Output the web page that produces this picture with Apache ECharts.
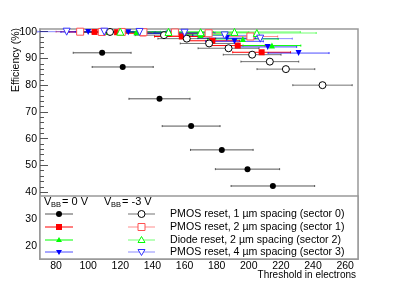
<!DOCTYPE html>
<html><head><meta charset="utf-8">
<script src="https://cdn.jsdelivr.net/npm/echarts@6/dist/echarts.min.js"></script>
<style>html,body{margin:0;padding:0;background:#fff}#c{width:399px;height:288px}</style>
</head><body><div id="c"></div>
<script>
// [threshold, efficiency, threshold error]
const s0_vbb0 = [[108.7,92.1,18],[121.5,86.8,19],[144.4,74.9,19],[164.1,64.7,18],[183.2,55.8,19.5],[199.2,48.6,20],[215,42.3,26]];
const s0_vbb3 = [[113.6,99.9,18],[147.2,98.7,18],[161.4,97.4,18],[175.3,95.6,18],[187.4,93.8,19],[202.1,91.4,18],[213.1,88.8,18],[223.1,86.0,18],[245.9,80.0,18.5]];
const s1_vbb0 = [[104,99.9,16],[118,99.8,16],[134,99.4,17],[158.3,98.2,17],[177.3,96.6,17],[193.1,94.8,17],[208,92.3,18]];
const s1_vbb3 = [[95,100,15],[108.5,99.9,15],[120.9,99.9,15],[134.4,99.8,15],[154,99.7,16],[175,99.4,16],[201,98.2,17]];
const s2_vbb0 = [[112,99.9,18],[130,99.8,18],[150,99.5,18],[170,98.8,20],[196.3,97.3,22],[214.4,94.8,18]];
const s2_vbb3 = [[120,100,25],[150,99.9,28],[170,99.8,30],[191.1,99.9,41],[205,99.5,37]];
const s3_vbb0 = [[100,99.9,17],[125,99.8,17],[150,99.3,18],[186.3,97.6,18],[191.1,96.4,18],[211.8,94.3,18],[231,92.0,19]];
const s3_vbb3 = [[86.6,100,18],[110,100,18],[132,99.9,19],[160,99.6,19],[185,98.6,20],[207.1,97.4,20]];
const xTicks = [80,100,120,140,160,180,200,220,240,260];
const yTicks = [20,30,40,50,60,70,80,90,100];
const yMinor = [];
for (let v = 16; v <= 100; v += 2) yMinor.push(v);
const legendLabels = ['PMOS reset, 1 \u00b5m spacing (sector 0)','PMOS reset, 2 \u00b5m spacing (sector 1)','Diode reset, 2 \u00b5m spacing (sector 2)','PMOS reset, 4 \u00b5m spacing (sector 3)'];

const FONT = 'Liberation Sans, Arial, sans-serif';
const sets = [
  {d:s0_vbb0, sym:'circle', fill:'#000', stroke:'#000', bar:'#555', rot:0, size:6},
  {d:s1_vbb0, sym:'rect', fill:'#ff0000', stroke:'#ff0000', bar:'#ff0000', rot:0, size:6},
  {d:s2_vbb0, sym:'triangle', fill:'#00ff00', stroke:'#00ff00', bar:'#00ff00', rot:0, size:6},
  {d:s3_vbb0, sym:'triangle', fill:'#0000ff', stroke:'#0000ff', bar:'rgba(0,0,255,0.7)', rot:180, size:6},
  {d:s0_vbb3, sym:'circle', fill:'#fff', stroke:'#000', bar:'rgba(0,0,0,0.55)', rot:0, size:7},
  {d:s1_vbb3, sym:'rect', fill:'#fff', stroke:'#ff5050', bar:'rgba(255,0,0,0.45)', rot:0, size:7},
  {d:s2_vbb3, sym:'triangle', fill:'#fff', stroke:'#00ff00', bar:'rgba(0,255,0,0.55)', rot:0, size:7},
  {d:s3_vbb3, sym:'triangle', fill:'#fff', stroke:'#3333ff', bar:'rgba(0,0,255,0.45)', rot:180, size:7}
];

const series = [];
sets.forEach(s => {
  series.push({
    type:'custom', data:s.d, z:2, silent:true,
    renderItem:(params, api) => {
      const x = api.value(0), y = api.value(1), e = api.value(2);
      const p1 = api.coord([x-e, y]), p2 = api.coord([x+e, y]);
      return {type:'group', children:[
        {type:'line', shape:{x1:p1[0], y1:p1[1], x2:p2[0], y2:p2[1]}, style:{stroke:s.bar, lineWidth:1}},
        {type:'line', shape:{x1:p1[0], y1:p1[1]-1, x2:p1[0], y2:p1[1]+1}, style:{stroke:s.bar, lineWidth:1}},
        {type:'line', shape:{x1:p2[0], y1:p2[1]-1, x2:p2[0], y2:p2[1]+1}, style:{stroke:s.bar, lineWidth:1}}
      ]};
    }
  });
});
sets.forEach(s => {
  series.push({
    type:'scatter', data:s.d.map(p => [p[0], p[1]]), symbol:s.sym, symbolSize:s.size, symbolRotate:s.rot, z:3,
    itemStyle:{color:s.fill, borderColor:s.stroke, borderWidth:s.fill === '#fff' ? 1 : 0, opacity:1}
  });
});

// legend graphics
const legendTop = 196, rowsY = [214, 227, 240, 252];
const g = [];
g.push({type:'rect', z:100, shape:{x:40, y:legendTop, width:318, height:259-legendTop}, style:{fill:'#fff', stroke:'#999', lineWidth:1.5}});
function txt(x, y, t, size, align) {
  g.push({type:'text', z:101, x:x, y:y, style:{text:t, font:size + 'px ' + FONT, fill:'#000', align:align || 'left', verticalAlign:'middle'}});
}
txt(44, 202, 'V', 11); txt(51, 205, 'BB', 7.5); txt(62, 202, '= 0 V', 11);
txt(104, 202, 'V', 11); txt(111, 205, 'BB', 7.5); txt(122, 202, '= -3 V', 11);
function marker(cx, cy, s) {
  const r = s.size / 2;
  const st = {fill:s.fill, stroke:s.stroke, lineWidth:s.fill === '#fff' ? 1 : 0};
  if (s.sym === 'circle') g.push({type:'circle', z:102, shape:{cx:cx, cy:cy, r:r}, style:st});
  else if (s.sym === 'rect') g.push({type:'rect', z:102, shape:{x:cx-r, y:cy-r, width:2*r, height:2*r}, style:st});
  else {
    const pts = s.rot ? [[cx-r, cy-r+1], [cx+r, cy-r+1], [cx, cy+r]] : [[cx-r, cy+r-1], [cx+r, cy+r-1], [cx, cy-r]];
    g.push({type:'polygon', z:102, shape:{points:pts}, style:st});
  }
}
for (let i = 0; i < 4; i++) {
  const a = sets[i], b = sets[i+4], y = rowsY[i];
  g.push({type:'line', z:101, shape:{x1:45, y1:y, x2:73, y2:y}, style:{stroke:a.bar, lineWidth:1}});
  marker(59, y, a);
  g.push({type:'line', z:101, shape:{x1:128, y1:y, x2:155, y2:y}, style:{stroke:b.bar, lineWidth:1}});
  marker(141.5, y, b);
  txt(170, y, legendLabels[i], 10.6);
}
// axis titles
g.push({type:'text', z:101, x:16, y:28, rotation:Math.PI/2, style:{text:'Efficiency (%)', font:'10.5px ' + FONT, fill:'#000', align:'right', verticalAlign:'middle'}});
g.push({type:'text', z:101, x:356, y:275, style:{text:'Threshold in electrons', font:'10px ' + FONT, fill:'#000', align:'right', verticalAlign:'middle'}});

const chart = echarts.init(document.getElementById('c'), null, {renderer:'canvas'});
chart.setOption({
  animation:false,
  backgroundColor:'#fff',
  grid:{left:40, right:41, top:29, bottom:29, show:true, borderColor:'#999', borderWidth:1.5, backgroundColor:'transparent'},
  xAxis:{type:'value', min:70, max:268, splitLine:{show:false},
    axisLine:{show:true, lineStyle:{color:'#999', width:1.5}}, axisTick:{show:false},
    axisLabel:{customValues:xTicks, color:'#000', fontSize:10.5, fontFamily:FONT, margin:2}},
  yAxis:[
    {type:'value', min:15, max:101, splitLine:{show:false},
      axisLine:{show:true, lineStyle:{color:'#999', width:1.5}},
      axisTick:{show:true, inside:true, length:8, customValues:yTicks, lineStyle:{color:'#555'}},
      axisLabel:{customValues:yTicks, color:'#000', fontSize:10.5, fontFamily:FONT, margin:3}},
    {type:'value', min:15, max:101, position:'left', splitLine:{show:false},
      axisLine:{show:false},
      axisTick:{show:true, inside:true, length:4, customValues:yMinor, lineStyle:{color:'#555'}},
      axisLabel:{show:false}}
  ],
  series:series,
  graphic:g
});
</script></body></html>
